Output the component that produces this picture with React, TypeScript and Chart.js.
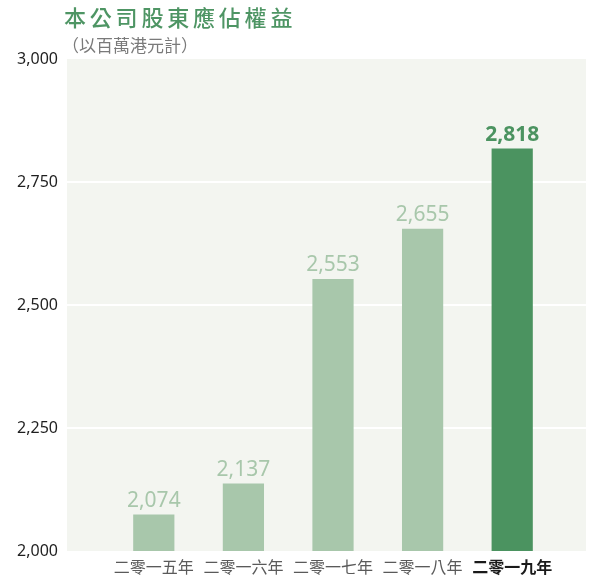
import React, { useEffect, useRef } from "react";
import { Chart, registerables } from "chart.js";

Chart.register(...registerables);

const categories = ["二零一五年", "二零一六年", "二零一七年", "二零一八年", "二零一九年"];
const equityValues = [2074, 2137, 2553, 2655, 2818];
const yTicks = [2000, 2250, 2500, 2750, 3000];
const titleText = "本公司股東應佔權益";
const subtitleText = "（以百萬港元計）";

const LIGHT = "#a8c7ab";
const DARK = "#4b9360";
const BG = "#f3f5f0";
const LATIN = "'Noto Sans', 'Open Sans', sans-serif";
const CJK = "'Noto Sans CJK TC', 'Noto Sans CJK SC', sans-serif";

const fmt = (v: number) => v.toLocaleString("en-US");

export default function App() {
  const ref = useRef<HTMLCanvasElement | null>(null);
  useEffect(() => {
    document.body.style.margin = "0";
    const canvas = ref.current!;
    const bgPlugin = {
      id: "bgPlugin",
      beforeDraw(chart: any) {
        const { ctx, chartArea, scales } = chart;
        const y = scales.y;
        const left = 67;
        const right = 586;
        ctx.save();
        ctx.fillStyle = BG;
        ctx.fillRect(left, chartArea.top, right - left, chartArea.bottom - chartArea.top);
        ctx.strokeStyle = "#ffffff";
        ctx.lineWidth = 2;
        yTicks.forEach((t) => {
          if (t === yTicks[0] || t === yTicks[yTicks.length - 1]) return;
          const py = Math.round(y.getPixelForValue(t));
          ctx.beginPath();
          ctx.moveTo(left, py);
          ctx.lineTo(right, py);
          ctx.stroke();
        });
        ctx.textAlign = "left";
        ctx.textBaseline = "middle";
        ctx.fillStyle = "#4e9564";
        ctx.font = `500 22px ${CJK}`;
        (ctx as any).letterSpacing = "3.8px";
        ctx.fillText(titleText, 64, 18);
        ctx.fillStyle = "#7a7a7a";
        ctx.font = `400 17px ${CJK}`;
        (ctx as any).letterSpacing = "0px";
        ctx.fillText(subtitleText, 62, 46);
        ctx.restore();
      },
      afterDatasetsDraw(chart: any) {
        const { ctx } = chart;
        const meta = chart.getDatasetMeta(0);
        ctx.save();
        ctx.textAlign = "center";
        ctx.textBaseline = "alphabetic";
        meta.data.forEach((bar: any, i: number) => {
          const last = i === equityValues.length - 1;
          ctx.fillStyle = last ? DARK : LIGHT;
          ctx.font = `${last ? "700" : "400"} 21px ${LATIN}`;
          ctx.fillText(fmt(equityValues[i]), bar.x, bar.y - 8);
        });
        ctx.restore();
      },
    };
    const chart = new Chart(canvas, {
      type: "bar",
      data: {
        labels: categories,
        datasets: [
          {
            data: equityValues,
            backgroundColor: equityValues.map((_, i) => (i === equityValues.length - 1 ? DARK : LIGHT)),
            borderWidth: 0,
            categoryPercentage: 1,
            barPercentage: 0.46,
          },
        ],
      },
      options: {
        animation: false,
        responsive: false,
        maintainAspectRatio: false,
        layout: { padding: { top: 59, right: 32, left: 0, bottom: 0 } },
        plugins: { legend: { display: false }, tooltip: { enabled: false }, title: { display: false } },
        scales: {
          x: {
            grid: { display: false, drawTicks: false },
            border: { display: false },
            afterFit(scale: any) {
              scale.height = 32;
            },
            ticks: {
              padding: 6,
              maxRotation: 0,
              autoSkip: false,
              color: (c: any) => (c.index === 4 ? "#1a1a1a" : "#5a5a5a"),
              font: (c: any) => ({
                family: CJK,
                size: 16,
                weight: c.index === 4 ? "700" : "400",
              }),
            },
          },
          y: {
            min: 2000,
            max: 3000,
            afterFit(scale: any) {
              scale.width = 109;
            },
            afterBuildTicks(scale: any) {
              scale.ticks = yTicks.map((v) => ({ value: v }));
            },
            grid: {
              display: true,
              drawOnChartArea: false,
              drawTicks: true,
              tickLength: 51,
              color: "rgba(0,0,0,0)",
            },
            border: { display: false },
            ticks: {
              padding: 0,
              color: "#1f1f1f",
              font: { family: LATIN, size: 16 },
              callback: (v: any) => fmt(Number(v)),
            },
          },
        },
      },
      plugins: [bgPlugin],
    });
    return () => chart.destroy();
  }, []);
  return (
    <div style={{ width: 589, height: 583 }}>
      <canvas ref={ref} width={589} height={583} style={{ display: "block" }} />
    </div>
  );
}
